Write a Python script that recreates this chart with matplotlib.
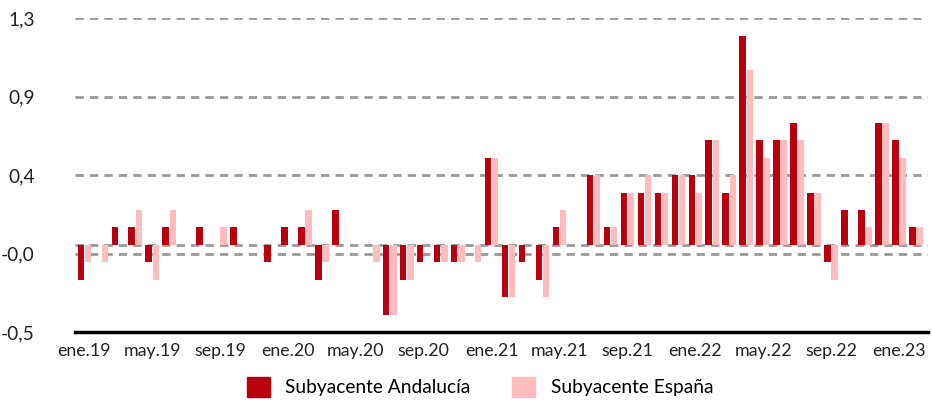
import numpy as np
import matplotlib.pyplot as plt
from matplotlib.patches import Patch

plt.rcParams['font.family'] = ['Lato', 'DejaVu Sans']

# monthly values, ene.19 .. feb.23
andalucia = [-0.2, 0.0, 0.1, 0.1, -0.1, 0.1, 0.0, 0.1, 0.0, 0.1, 0.0, -0.1,
             0.1, 0.1, -0.2, 0.2, 0.0, 0.0, -0.4, -0.2, -0.1, -0.1, -0.1, 0.0,
             0.5, -0.3, -0.1, -0.2, 0.1, 0.0, 0.4, 0.1, 0.3, 0.3, 0.3, 0.4,
             0.4, 0.6, 0.3, 1.2, 0.6, 0.6, 0.7, 0.3, -0.1, 0.2, 0.2, 0.7,
             0.6, 0.1]
espana = [-0.1, -0.1, 0.0, 0.2, -0.2, 0.2, 0.0, 0.0, 0.1, 0.0, 0.0, 0.0,
          0.0, 0.2, -0.1, 0.0, 0.0, -0.1, -0.4, -0.2, 0.0, -0.1, -0.1, -0.1,
          0.5, -0.3, 0.0, -0.3, 0.2, 0.0, 0.4, 0.1, 0.3, 0.4, 0.3, 0.4,
          0.3, 0.6, 0.4, 1.0, 0.5, 0.6, 0.6, 0.3, -0.2, 0.0, 0.1, 0.7,
          0.5, 0.1]
tick_months = [0, 4, 8, 12, 16, 20, 24, 28, 32, 36, 40, 44, 48]
tick_labels = ['ene.19', 'may.19', 'sep.19', 'ene.20', 'may.20', 'sep.20', 'ene.21',
               'may.21', 'sep.21', 'ene.22', 'may.22', 'sep.22', 'ene.23']
y_ticks = [-0.5, -0.05, 0.4, 0.85, 1.3]
y_labels = ['-0,5', '-0,0', '0,4', '0,9', '1,3']

RED = '#B8000F'
PINK = '#FFBCBC'

fig = plt.figure(figsize=(9.32, 4.12), dpi=100)
ax = fig.add_axes([0.0805, 0.194, 0.915, 0.762])

x = np.arange(len(andalucia))
w = 0.38
ax.bar(x - 0.21, andalucia, width=w, color=RED, zorder=3)
ax.bar(x + 0.21, espana, width=w, color=PINK, zorder=3)

ax.set_xlim(-0.55, 49.7)
ax.set_ylim(-0.5, 1.3)

# dashed grid at the ticks plus the zero line
for yv in y_ticks[1:] + [0.0]:
    ax.axhline(yv, color='#999999', lw=2, ls=(0, (3, 2.2)), zorder=1)

for s in ['top', 'right', 'left']:
    ax.spines[s].set_visible(False)
ax.spines['bottom'].set_linewidth(2.5)
ax.spines['bottom'].set_color('black')

ax.set_yticks(y_ticks)
ax.set_yticklabels(y_labels, fontsize=13.8, color='#222222')
ax.set_xticks(tick_months)
ax.set_xticklabels(tick_labels, fontsize=12.8, color='#222222')
ax.tick_params(axis='y', length=0, pad=29)
ax.tick_params(axis='x', length=0, pad=8)

handles = [Patch(color=RED, label='Subyacente Andalucía'),
           Patch(color=PINK, label='Subyacente España')]
fig.legend(handles=handles, loc='lower center', bbox_to_anchor=(0.515, -0.005), ncol=2,
           frameon=False, fontsize=13.8, handlelength=1.2, handleheight=1.2,
           columnspacing=2.2, handletextpad=0.8)

fig.savefig('out.png', dpi=100)
